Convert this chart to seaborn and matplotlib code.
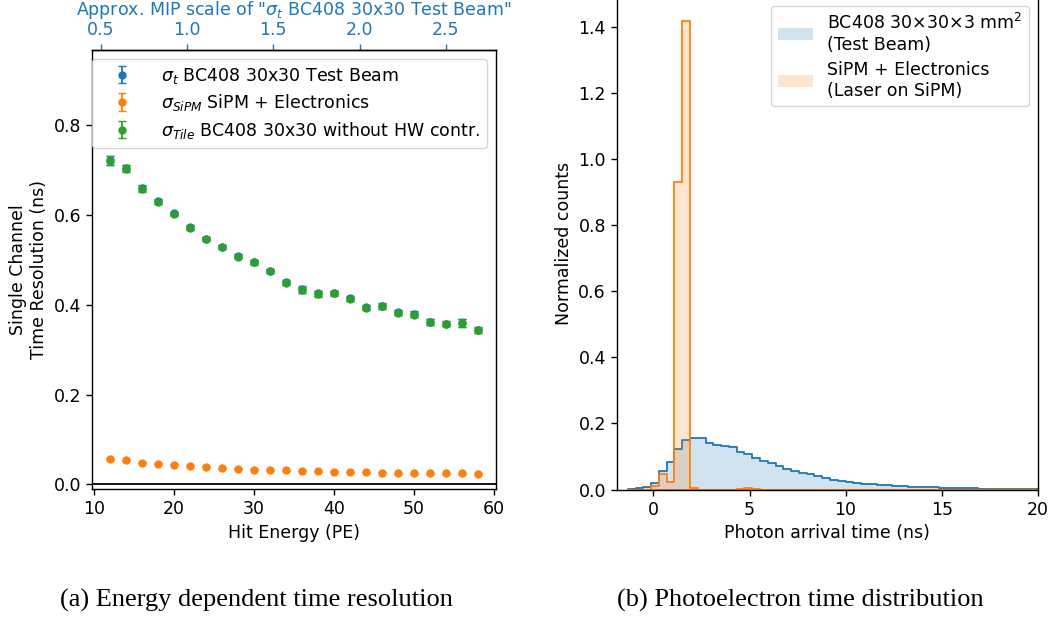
import numpy as np
import pandas as pd
import matplotlib
matplotlib.use("Agg")
import matplotlib.pyplot as plt
from matplotlib.patches import Patch
import seaborn as sns

# ---------------- data: left panel ----------------
hit_energy = [12, 14, 16, 18, 20, 22, 24, 26, 28, 30, 32, 34, 36, 38, 40, 42, 44, 46, 48, 50, 52, 54, 56, 58]
sigma_t = [0.722, 0.705, 0.659, 0.630, 0.603, 0.572, 0.547, 0.529, 0.508, 0.495, 0.475, 0.450, 0.434, 0.425,
           0.426, 0.414, 0.394, 0.397, 0.383, 0.379, 0.362, 0.358, 0.360, 0.344]
sigma_t_err = [0.010, 0.007, 0.007, 0.005, 0.004, 0.005, 0.004, 0.004, 0.004, 0.005, 0.004, 0.005, 0.007,
               0.006, 0.005, 0.005, 0.005, 0.006, 0.005, 0.006, 0.007, 0.005, 0.009, 0.006]
sigma_sipm = [0.056, 0.054, 0.048, 0.046, 0.044, 0.041, 0.039, 0.036, 0.035, 0.033, 0.032, 0.031, 0.030, 0.029,
              0.028, 0.0275, 0.027, 0.026, 0.025, 0.0245, 0.0245, 0.0245, 0.0245, 0.024]
sigma_sipm_err = [0.001] * 24
sigma_tile = [0.720, 0.703, 0.657, 0.628, 0.601, 0.571, 0.546, 0.528, 0.507, 0.494, 0.474, 0.449, 0.433, 0.424,
              0.425, 0.413, 0.393, 0.396, 0.382, 0.378, 0.361, 0.357, 0.359, 0.343]
sigma_tile_err = [0.010, 0.007, 0.007, 0.005, 0.004, 0.005, 0.004, 0.004, 0.004, 0.005, 0.004, 0.005, 0.007,
                  0.006, 0.005, 0.005, 0.005, 0.006, 0.005, 0.006, 0.007, 0.005, 0.009, 0.006]
pe_per_mip = 21.6

labels_left = [r"$\sigma_{t}$ BC408 30x30 Test Beam",
               r"$\sigma_{SiPM}$ SiPM + Electronics",
               r"$\sigma_{Tile}$ BC408 30x30 without HW contr."]

# ---------------- data: right panel (histograms) ----------------
bin_start = -1.34
bin_width = 0.405
n_bins = 53
tilebeam_heights = [0.002, 0.005, 0.008, 0.021, 0.056, 0.084, 0.123, 0.150, 0.157, 0.155, 0.140, 0.136,
                    0.132, 0.128, 0.114, 0.107, 0.096, 0.087, 0.079, 0.072, 0.062, 0.055, 0.049, 0.046,
                    0.040, 0.035, 0.029, 0.025, 0.022, 0.020, 0.018, 0.016, 0.014, 0.013, 0.011, 0.010,
                    0.009, 0.008, 0.007, 0.0065, 0.0055, 0.005, 0.0045, 0.004, 0.0035, 0.003, 0.003,
                    0.0025, 0.0025, 0.002, 0.002, 0.0018, 0.0015]
laser_heights = [0.0, 0.0, 0.0, 0.011, 0.046, 0.024, 0.930, 1.419, 0.004, 0.0, 0.0, 0.0, 0.0, 0.0,
                 0.002, 0.004, 0.002] + [0.0] * 36
labels_right = ["BC408 30×30×3 mm$^2$\n(Test Beam)", "SiPM + Electronics\n(Laser on SiPM)"]

captions = ["(a) Energy dependent time resolution", "(b) Photoelectron time distribution"]

# ---------------- figure ----------------
plt.rcParams["font.family"] = ["DejaVu Sans"]
plt.rcParams["font.size"] = 12.5
plt.rcParams["mathtext.fontset"] = "dejavusans"
plt.rcParams["axes.linewidth"] = 1.0
plt.rcParams["xtick.major.size"] = 4.4
plt.rcParams["ytick.major.size"] = 4.4
plt.rcParams["xtick.major.width"] = 1.0
plt.rcParams["ytick.major.width"] = 1.0

fig = plt.figure(figsize=(10.55, 6.17), dpi=100)
axL = fig.add_axes([0.0875, 0.2070, 0.3826, 0.7120])
axR = fig.add_axes([0.5848, 0.2066, 0.3988, 0.7978])

c0, c1, c2 = sns.color_palette("tab10")[:3]

axL.axhline(0, color="black", lw=1.3, zorder=1)
axL.errorbar(hit_energy, sigma_t, yerr=sigma_t_err, fmt="o", ms=5, capsize=3, color=c0,
             elinewidth=1.3, label=labels_left[0], zorder=3)
axL.errorbar(hit_energy, sigma_sipm, yerr=sigma_sipm_err, fmt="o", ms=5, capsize=3, color=c1,
             elinewidth=1.3, label=labels_left[1], zorder=3)
axL.errorbar(hit_energy, sigma_tile, yerr=sigma_tile_err, fmt="o", ms=5, capsize=3, color=c2,
             elinewidth=1.3, label=labels_left[2], zorder=4)
axL.set_xlim(9.75, 60.25)
axL.set_ylim(-0.011, 0.967)
axL.set_yticks([0.0, 0.2, 0.4, 0.6, 0.8])
axL.set_xticks([10, 20, 30, 40, 50, 60])
axL.set_xlabel("Hit Energy (PE)")
axL.set_ylabel("Single Channel\nTime Resolution (ns)")
axL.legend(loc="upper right", fontsize=12.5, labelspacing=0.38, handlelength=2.6, handletextpad=1.0)

sec = axL.secondary_xaxis("top", functions=(lambda pe: pe / pe_per_mip, lambda m: m * pe_per_mip))
sec.set_xlabel('Approx. MIP scale of "$\\sigma_t$ BC408 30x30 Test Beam"', color=c0)
sec.tick_params(axis="x", colors=c0)
sec.set_xticks([0.5, 1.0, 1.5, 2.0, 2.5])

# right histograms
edges = (bin_start + bin_width * np.arange(n_bins + 1)).tolist()
centers = [(a + b) / 2 for a, b in zip(edges[:-1], edges[1:])]
for heights, col in [(tilebeam_heights, c0), (laser_heights, c1)]:
    sub = pd.DataFrame({"t": centers, "w": heights})
    sns.histplot(data=sub, x="t", weights="w", bins=edges, element="step", fill=True,
                 color=col, alpha=0.2, linewidth=1.3, ax=axR, legend=False)
axR.set_xlim(-1.9, 20)
axR.set_ylim(0, 1.49)
axR.set_yticks([0.0, 0.2, 0.4, 0.6, 0.8, 1.0, 1.2, 1.4])
axR.set_xticks([0, 5, 10, 15, 20])
axR.set_xlabel("Photon arrival time (ns)")
axR.set_ylabel("Normalized counts")
handles = [Patch(facecolor=c0, alpha=0.2, edgecolor="none"),
           Patch(facecolor=c1, alpha=0.2, edgecolor="none")]
axR.legend(handles, labels_right, loc="upper right", fontsize=12.5, labelspacing=0.4)

for x, txt in zip([0.2431, 0.7588], captions):
    fig.text(x, 0.027, txt, ha="center", va="center", fontsize=19, family=["Liberation Serif"])

fig.savefig("out.png", dpi=100)
